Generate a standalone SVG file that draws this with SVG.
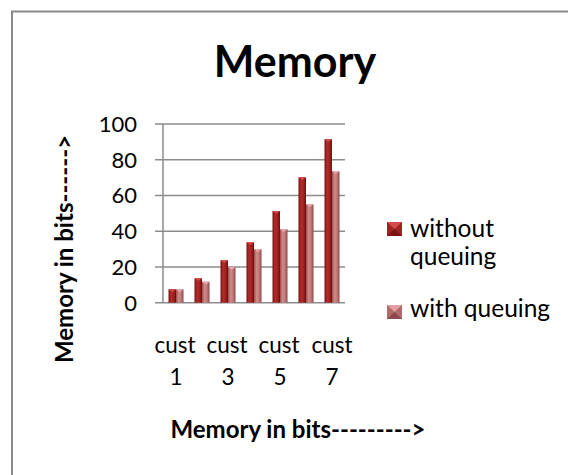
<svg xmlns="http://www.w3.org/2000/svg" width="568" height="475" viewBox="0 0 568 475">
  <style>
    .lbl { font-family: Lato, "Liberation Sans", sans-serif; fill: #000; }
    .tick { font-size: 22px; text-anchor: end; }
    .cat { font-size: 22.5px; text-anchor: middle; }
    .leg { font-size: 24.5px; }
    .ttl { font-weight: bold; }
    .grid { stroke: #8c8c8c; stroke-width: 1.5; fill: none; }
    .cap-a { fill: #d84848; }
    .cap-b { fill: #e8a8a8; }
  </style>
  <defs>
    <linearGradient id="gA" x1="0" y1="0" x2="1" y2="0">
      <stop offset="0" stop-color="#761212"/>
      <stop offset="0.35" stop-color="#b42a2a"/>
      <stop offset="0.65" stop-color="#a52222"/>
      <stop offset="1" stop-color="#6a1010"/>
    </linearGradient>
    <linearGradient id="gB" x1="0" y1="0" x2="1" y2="0">
      <stop offset="0" stop-color="#9a4e4e"/>
      <stop offset="0.35" stop-color="#d08a8a"/>
      <stop offset="0.65" stop-color="#c27a7a"/>
      <stop offset="1" stop-color="#8e4646"/>
    </linearGradient>
  </defs>

  <rect x="0" y="0" width="568" height="475" fill="#fff"/>
  <!-- chart frame (continues past the page edge) -->
  <rect x="12" y="11.5" width="600" height="520" fill="none" stroke="#8a8a8a" stroke-width="2"/>

  <!-- title -->
  <text id="title" class="lbl ttl" x="295" y="77" font-size="43" text-anchor="middle">Memory</text>

  <!-- gridlines and axis -->
  <g id="axes">
    <line class="grid" x1="155" y1="124" x2="345" y2="124"/>
    <line class="grid" x1="155" y1="159.7" x2="345" y2="159.7"/>
    <line class="grid" x1="155" y1="195.4" x2="345" y2="195.4"/>
    <line class="grid" x1="155" y1="231.2" x2="345" y2="231.2"/>
    <line class="grid" x1="155" y1="266.9" x2="345" y2="266.9"/>
    <line class="grid" x1="155" y1="302.7" x2="345" y2="302.7"/>
    <line class="grid" x1="163" y1="124" x2="163" y2="302.7"/>
  </g>

  <!-- value axis labels -->
  <g id="y-ticks" class="lbl tick">
    <text x="137" y="132">100</text>
    <text x="137" y="167.7">80</text>
    <text x="137" y="203.4">60</text>
    <text x="137" y="239.2">40</text>
    <text x="137" y="274.9">20</text>
    <text x="137" y="310.7">0</text>
  </g>

  <!-- bars: without queuing (A) and with queuing (B) -->
  <g id="series-a">
    <rect x="168.5" y="289.3" width="7.5" height="13.4" fill="url(#gA)"/>
    <rect x="194.5" y="278.3" width="7.5" height="24.4" fill="url(#gA)"/>
    <rect x="220.5" y="260.3" width="7.5" height="42.4" fill="url(#gA)"/>
    <rect x="246.5" y="242.3" width="7.5" height="60.4" fill="url(#gA)"/>
    <rect x="272.5" y="211" width="7.5" height="91.7" fill="url(#gA)"/>
    <rect x="298.5" y="177.3" width="7.5" height="125.4" fill="url(#gA)"/>
    <rect x="324.5" y="139.3" width="7.5" height="163.4" fill="url(#gA)"/>
    <polygon class="cap-a" points="168.5,289.3 176,289.3 172.25,292"/>
    <polygon class="cap-a" points="194.5,278.3 202,278.3 198.25,281"/>
    <polygon class="cap-a" points="220.5,260.3 228,260.3 224.25,263"/>
    <polygon class="cap-a" points="246.5,242.3 254,242.3 250.25,245"/>
    <polygon class="cap-a" points="272.5,211 280,211 276.25,213.7"/>
    <polygon class="cap-a" points="298.5,177.3 306,177.3 302.25,180"/>
    <polygon class="cap-a" points="324.5,139.3 332,139.3 328.25,142"/>
  </g>
  <g id="series-b">
    <rect x="176" y="289.3" width="7.5" height="13.4" fill="url(#gB)"/>
    <rect x="202" y="281.7" width="7.5" height="21" fill="url(#gB)"/>
    <rect x="228" y="267" width="7.5" height="35.7" fill="url(#gB)"/>
    <rect x="254" y="249.3" width="7.5" height="53.4" fill="url(#gB)"/>
    <rect x="280" y="229.3" width="7.5" height="73.4" fill="url(#gB)"/>
    <rect x="306" y="204.3" width="7.5" height="98.4" fill="url(#gB)"/>
    <rect x="332" y="171.3" width="7.5" height="131.4" fill="url(#gB)"/>
    <polygon class="cap-b" points="176,289.3 183.5,289.3 179.75,292"/>
    <polygon class="cap-b" points="202,281.7 209.5,281.7 205.75,284.4"/>
    <polygon class="cap-b" points="228,267 235.5,267 231.75,269.7"/>
    <polygon class="cap-b" points="254,249.3 261.5,249.3 257.75,252"/>
    <polygon class="cap-b" points="280,229.3 287.5,229.3 283.75,232"/>
    <polygon class="cap-b" points="306,204.3 313.5,204.3 309.75,207"/>
    <polygon class="cap-b" points="332,171.3 339.5,171.3 335.75,174"/>
  </g>

  <!-- category labels -->
  <g id="x-ticks" class="lbl cat">
    <text x="175" y="353">cust</text>
    <text x="227" y="353">cust</text>
    <text x="279" y="353">cust</text>
    <text x="332" y="353">cust</text>
    <text x="176" y="385">1</text>
    <text x="228" y="385">3</text>
    <text x="280" y="385">5</text>
    <text x="332" y="385">7</text>
  </g>

  <!-- axis titles -->
  <text id="x-title" class="lbl ttl" x="298" y="438" font-size="24" text-anchor="middle">Memory in bits---------&gt;</text>
  <text id="y-title" class="lbl ttl" transform="translate(73,249) rotate(-90)" font-size="24" text-anchor="middle">Memory in bits------&gt;</text>

  <!-- legend -->
  <g id="legend-a">
    <rect x="387" y="222" width="15" height="14" fill="#a02222"/>
    <polygon points="387,222 402,222 394.5,229" fill="#d44a4a"/>
    <polygon points="387,236 402,236 394.5,229" fill="#7a1414"/>
    <text class="lbl leg" x="410" y="237">without</text>
    <text class="lbl leg" x="410" y="265">queuing</text>
  </g>
  <g id="legend-b">
    <rect x="387" y="305" width="15" height="14" fill="#b06a6a"/>
    <polygon points="387,305 402,305 394.5,312" fill="#e0a0a0"/>
    <polygon points="387,319 402,319 394.5,312" fill="#8e4a4a"/>
    <text class="lbl leg" x="410" y="317">with queuing</text>
  </g>
</svg>
